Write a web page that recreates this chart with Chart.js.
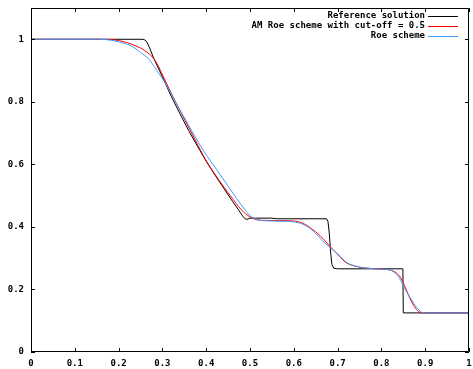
<!DOCTYPE html>
<html>
<head>
<meta charset="utf-8">
<script src="https://cdn.jsdelivr.net/npm/chart.js@4/dist/chart.umd.min.js"></script>
<style>
html,body{margin:0;padding:0;background:#fff;}
#wrap{width:473px;height:369px;}
</style>
</head>
<body>
<div id="wrap"><canvas id="c" width="473" height="369"></canvas></div>
<script>
// ---- data ----
const seriesLabels = ['Reference solution', 'AM Roe scheme with cut-off = 0.5', 'Roe scheme'];

const refX = [0, 0.255, 0.260, 0.265, 0.270, 0.28, 0.30, 0.32, 0.34, 0.36, 0.38, 0.40, 0.42, 0.44, 0.46, 0.475, 0.483, 0.488, 0.493, 0.50, 0.55, 0.56, 0.675, 0.678, 0.681, 0.684, 0.687, 0.691, 0.70, 0.849, 0.850, 1.0];
const refY = [1, 1, 0.998, 0.99, 0.975, 0.94, 0.88, 0.818, 0.762, 0.708, 0.658, 0.61, 0.566, 0.524, 0.482, 0.452, 0.435, 0.427, 0.424, 0.428, 0.428, 0.426, 0.426, 0.418, 0.38, 0.32, 0.28, 0.268, 0.266, 0.266, 0.125, 0.125];

const amX = [0, 0.17, 0.19, 0.21, 0.23, 0.25, 0.27, 0.283, 0.298, 0.31, 0.33, 0.35, 0.375, 0.40, 0.43, 0.455, 0.48, 0.50, 0.515, 0.53, 0.58, 0.60, 0.62, 0.64, 0.66, 0.68, 0.70, 0.72, 0.74, 0.76, 0.80, 0.82, 0.835, 0.845, 0.855, 0.865, 0.875, 0.885, 0.895, 1.0];
const amY = [1, 1, 0.998, 0.993, 0.984, 0.972, 0.953, 0.933, 0.893, 0.857, 0.80, 0.745, 0.678, 0.612, 0.548, 0.50, 0.455, 0.432, 0.423, 0.421, 0.420, 0.419, 0.412, 0.395, 0.372, 0.342, 0.312, 0.285, 0.275, 0.269, 0.265, 0.262, 0.252, 0.235, 0.205, 0.172, 0.146, 0.129, 0.125, 0.125];

const roeX = [0, 0.15, 0.17, 0.19, 0.21, 0.23, 0.25, 0.27, 0.283, 0.306, 0.329, 0.36, 0.39, 0.432, 0.47, 0.49, 0.504, 0.515, 0.53, 0.58, 0.60, 0.62, 0.641, 0.671, 0.702, 0.72, 0.74, 0.76, 0.80, 0.82, 0.835, 0.845, 0.855, 0.869, 0.88, 0.892, 0.90, 1.0];
const roeY = [1, 1, 0.999, 0.995, 0.988, 0.978, 0.958, 0.935, 0.909, 0.861, 0.802, 0.725, 0.652, 0.567, 0.49, 0.452, 0.432, 0.424, 0.420, 0.418, 0.416, 0.409, 0.391, 0.348, 0.311, 0.287, 0.275, 0.269, 0.265, 0.262, 0.248, 0.227, 0.198, 0.167, 0.143, 0.127, 0.125, 0.125];

const xTickValues = [0, 0.1, 0.2, 0.3, 0.4, 0.5, 0.6, 0.7, 0.8, 0.9, 1];
const xTickLabels = ['0', '0.1', '0.2', '0.3', '0.4', '0.5', '0.6', '0.7', '0.8', '0.9', '1'];
const yTickValues = [0, 0.2, 0.4, 0.6, 0.8, 1];
const yTickLabels = ['0', '0.2', '0.4', '0.6', '0.8', '1'];

const colors = ['#000000', '#ff0000', '#3d9eff'];
const FONT = 'bold 9px "DejaVu Sans Mono", "Liberation Mono", monospace';

function pts(xs, ys) { return xs.map((x, i) => ({x: x, y: ys[i]})); }

// Frame with inward ticks on all four sides (gnuplot style)
const framePlugin = {
  id: 'frame',
  afterDatasetsDraw(chart) {
    const {ctx, chartArea: a, scales} = chart;
    ctx.save();
    ctx.strokeStyle = '#000';
    ctx.lineWidth = 1;
    ctx.beginPath();
    ctx.rect(Math.round(a.left) + 0.5, Math.round(a.top) + 0.5, Math.round(a.right - a.left) - 1, Math.round(a.bottom - a.top) - 1);
    ctx.stroke();
    const L = 4;
    ctx.beginPath();
    xTickValues.forEach(v => {
      const px = Math.round(scales.x.getPixelForValue(v)) + 0.5;
      ctx.moveTo(px, a.bottom); ctx.lineTo(px, a.bottom - L);
      ctx.moveTo(px, a.top); ctx.lineTo(px, a.top + L);
    });
    yTickValues.forEach(v => {
      const py = Math.round(scales.y.getPixelForValue(v)) + 0.5;
      ctx.moveTo(a.left, py); ctx.lineTo(a.left + L, py);
      ctx.moveTo(a.right, py); ctx.lineTo(a.right - L, py);
    });
    ctx.stroke();
    ctx.restore();
  }
};

// Legend: right-aligned text followed by a line sample, top-right inside the plot
const legendPlugin = {
  id: 'gpLegend',
  afterDraw(chart) {
    const ctx = chart.ctx;
    ctx.save();
    ctx.font = FONT;
    ctx.textAlign = 'right';
    ctx.textBaseline = 'middle';
    chart.data.datasets.forEach((ds, i) => {
      const y = 16 + i * 10;
      ctx.fillStyle = '#000';
      ctx.fillText(ds.label, 425, y);
      ctx.strokeStyle = ds.borderColor;
      ctx.lineWidth = 1;
      ctx.beginPath();
      ctx.moveTo(428, y + 0.5); ctx.lineTo(458, y + 0.5);
      ctx.stroke();
    });
    ctx.restore();
  }
};

new Chart(document.getElementById('c'), {
  type: 'line',
  data: {
    datasets: [
      {label: seriesLabels[0], data: pts(refX, refY), borderColor: colors[0], borderWidth: 1, pointRadius: 0, tension: 0, order: 3},
      {label: seriesLabels[1], data: pts(amX, amY), borderColor: colors[1], borderWidth: 1, pointRadius: 0, cubicInterpolationMode: 'monotone', order: 2},
      {label: seriesLabels[2], data: pts(roeX, roeY), borderColor: colors[2], borderWidth: 1, pointRadius: 0, cubicInterpolationMode: 'monotone', order: 1}
    ]
  },
  options: {
    responsive: false,
    animation: false,
    events: [],
    layout: {padding: {left: 0, right: 4, top: 8, bottom: 0}},
    plugins: {legend: {display: false}, tooltip: {enabled: false}},
    scales: {
      x: {
        type: 'linear', min: 0, max: 1,
        grid: {display: false, drawTicks: false},
        border: {display: false},
        afterBuildTicks: s => { s.ticks = xTickValues.map(v => ({value: v})); },
        afterFit: s => { s.height = 17; s.paddingLeft = 0; s.paddingRight = 0; },
        ticks: {
          color: '#000', font: {family: '"DejaVu Sans Mono", "Liberation Mono", monospace', size: 9, weight: 'bold'},
          padding: 6, maxRotation: 0, autoSkip: false,
          callback: (v, i) => xTickLabels[i]
        }
      },
      y: {
        type: 'linear', min: 0, max: 1.1,
        grid: {display: false, drawTicks: false},
        border: {display: false},
        afterBuildTicks: s => { s.ticks = yTickValues.map(v => ({value: v})); },
        afterFit: s => { s.width = 31; s.paddingTop = 0; s.paddingBottom = 0; },
        ticks: {
          color: '#000', font: {family: '"DejaVu Sans Mono", "Liberation Mono", monospace', size: 9, weight: 'bold'},
          padding: 7, autoSkip: false,
          callback: (v, i) => yTickLabels[i]
        }
      }
    }
  },
  plugins: [framePlugin, legendPlugin]
});
</script>
</body>
</html>
